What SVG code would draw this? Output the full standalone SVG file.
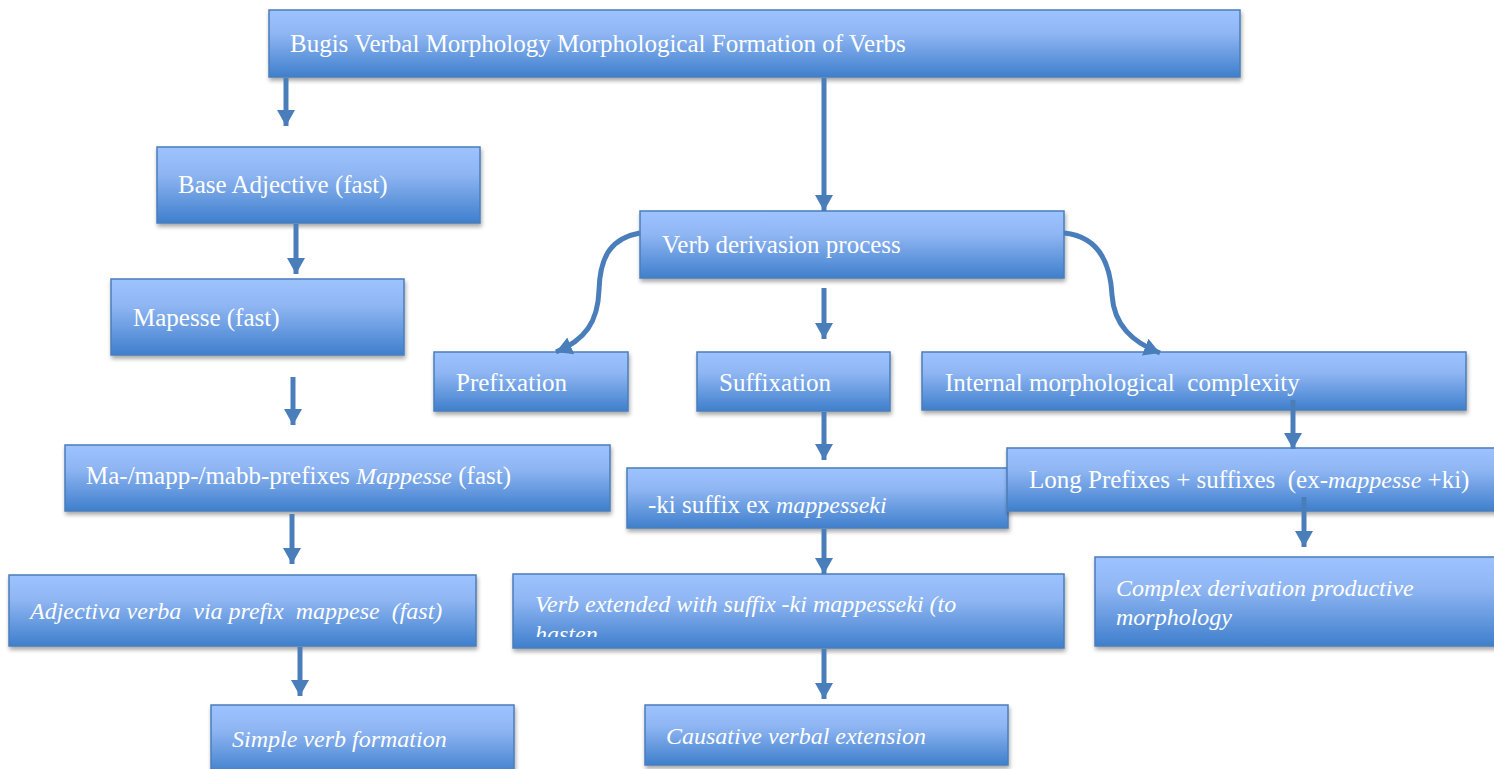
<svg xmlns="http://www.w3.org/2000/svg" width="1494" height="769" viewBox="0 0 1494 769">
<defs>
  <linearGradient id="boxGrad" x1="0" y1="0" x2="0" y2="1">
    <stop offset="0" stop-color="#9dc3ff"/>
    <stop offset="0.35" stop-color="#8fb6f3"/>
    <stop offset="1" stop-color="#3f7fcc"/>
  </linearGradient>
  <filter id="shadow" x="-5%" y="-20%" width="110%" height="150%">
    <feGaussianBlur in="SourceAlpha" stdDeviation="2"/>
    <feOffset dx="1" dy="3" result="b"/>
    <feComponentTransfer><feFuncA type="linear" slope="0.35"/></feComponentTransfer>
    <feMerge><feMergeNode/><feMergeNode in="SourceGraphic"/></feMerge>
  </filter>
  <marker id="head" markerUnits="userSpaceOnUse" markerWidth="22" markerHeight="22" viewBox="0 0 22 22" refX="16" refY="11" orient="auto">
    <path d="M0,2 L16,11 L0,20 Z" fill="#4a7ebb"/>
  </marker>
  <clipPath id="clipExt"><rect x="513" y="574" width="552" height="63"/></clipPath>
</defs>
<style>
  .box { fill: url(#boxGrad); stroke: #4a7ebb; stroke-width: 1.5; filter: url(#shadow); }
  .t { font-family: "Liberation Serif", "DejaVu Serif", serif; font-size: 25px; fill: #ffffff; white-space: pre; }
  .i { font-style: italic; font-size: 24px; }
  .c { fill: none; stroke: #4a7ebb; stroke-width: 5; marker-end: url(#head); }
</style>

<g id="n-top">
  <rect class="box" x="269" y="10" width="971" height="67"/>
  <text class="t" x="290" y="52">Bugis Verbal Morphology Morphological Formation of Verbs</text>
</g>
<g id="n-base">
  <rect class="box" x="157" y="147" width="323" height="76"/>
  <text class="t" x="178" y="193">Base Adjective (fast)</text>
</g>
<g id="n-mapesse">
  <rect class="box" x="111" y="279" width="293" height="76"/>
  <text class="t" x="133" y="326">Mapesse (fast)</text>
</g>
<g id="n-prefixes">
  <rect class="box" x="65" y="445" width="545" height="66"/>
  <text class="t" x="86" y="484">Ma-/mapp-/mabb-prefixes <tspan class="i">Mappesse</tspan> (fast)</text>
</g>
<g id="n-adjectiva">
  <rect class="box" x="9" y="575" width="467" height="71"/>
  <text class="t i" x="30" y="619">Adjectiva verba  via prefix  mappese  (fast)</text>
</g>
<g id="n-simple">
  <rect class="box" x="211" y="705" width="303" height="70"/>
  <text class="t i" x="232" y="747">Simple verb formation</text>
</g>
<g id="n-derivasion">
  <rect class="box" x="640" y="211" width="424" height="67"/>
  <text class="t" x="662" y="253">Verb derivasion process</text>
</g>
<g id="n-prefixation">
  <rect class="box" x="434" y="352" width="194" height="59"/>
  <text class="t" x="456" y="391">Prefixation</text>
</g>
<g id="n-suffixation">
  <rect class="box" x="697" y="352" width="193" height="59"/>
  <text class="t" x="719" y="391">Suffixation</text>
</g>
<g id="n-internal">
  <rect class="box" x="922" y="352" width="544" height="58"/>
  <text class="t" x="945" y="391">Internal morphological  complexity</text>
</g>
<g id="n-ki">
  <rect class="box" x="627" y="468" width="381" height="60"/>
  <text class="t" x="648" y="513">-ki suffix ex <tspan class="i">mappesseki</tspan></text>
</g>
<g id="n-long">
  <rect class="box" x="1007" y="448" width="495" height="63"/>
  <text class="t" x="1029" y="488">Long Prefixes + suffixes  (ex-<tspan class="i">mappesse</tspan> +ki)</text>
</g>
<g id="n-extended">
  <rect class="box" x="513" y="574" width="551" height="74"/>
  <text class="t i" x="535" y="612" clip-path="url(#clipExt)">Verb extended with suffix -ki mappesseki (to<tspan x="535" y="642">hasten</tspan></text>
</g>
<g id="n-complex">
  <rect class="box" x="1095" y="557" width="405" height="89"/>
  <text class="t i" x="1116" y="596">Complex derivation productive<tspan x="1116" y="625">morphology</tspan></text>
</g>
<g id="n-causative">
  <rect class="box" x="645" y="705" width="363" height="60"/>
  <text class="t i" x="666" y="744">Causative verbal extension</text>
</g>

<g id="connectors">
  <path class="c" d="M286,78 L286,126"/>
  <path class="c" d="M824,78 L824,211"/>
  <path class="c" d="M296,224 L296,274"/>
  <path class="c" d="M293,377 L293,425"/>
  <path class="c" d="M292,514 L292,564"/>
  <path class="c" d="M300,647 L300,696"/>
  <path class="c" d="M824,288 L824,339"/>
  <path class="c" d="M824,412 L824,460"/>
  <path class="c" d="M824,529 L824,574"/>
  <path class="c" d="M824,649 L824,699"/>
  <path class="c" d="M1293,400 L1293,449"/>
  <path class="c" d="M1304,497 L1304,547"/>
  <path class="c" d="M640,233 C612,238 600,255 599,290 C598,322 585,340 556,352"/>
  <path class="c" d="M1064,233 C1095,236 1110,258 1112,295 C1114,325 1132,342 1160,353"/>
</g>
</svg>
